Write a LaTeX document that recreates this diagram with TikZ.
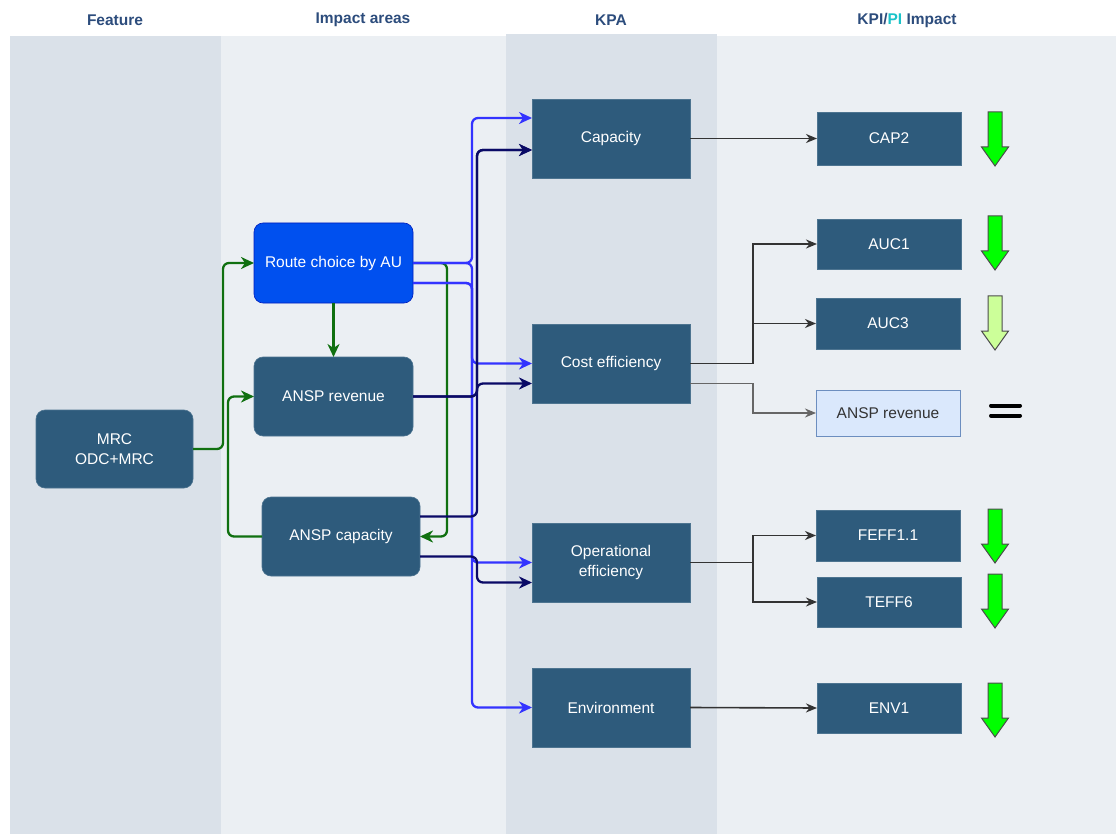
\documentclass[tikz,border=0pt]{standalone}
\usepackage{fontspec}
\setmainfont{Liberation Sans}
\usetikzlibrary{arrows.meta}

\definecolor{bandA}{HTML}{DAE1E9}
\definecolor{bandB}{HTML}{EBEFF3}
\definecolor{nodefill}{HTML}{2E5B7C}
\definecolor{routefill}{HTML}{0050EF}
\definecolor{routeline}{HTML}{001DBC}
\definecolor{headtext}{HTML}{2C4C7C}
\definecolor{pitext}{HTML}{1BC3C9}
\definecolor{greenline}{HTML}{107010}
\definecolor{blueline}{HTML}{3333FF}
\definecolor{navyline}{HTML}{0A0A66}
\definecolor{kpilight}{HTML}{DAE8FC}
\definecolor{kpiborder}{HTML}{6C8EBF}
\definecolor{upgreen}{HTML}{00FF00}
\definecolor{palegreen}{HTML}{CCFF99}

\begin{document}
\begin{tikzpicture}[x=1pt,y=-1pt,
  header/.style={text=headtext, font=\fontsize{15.5}{18}\selectfont\bfseries, anchor=center},
  box/.style={fill=nodefill, draw=nodefill!85!white, line width=0.6pt, text=white,
    font=\fontsize{15.5}{20}\selectfont, align=center, inner sep=0pt, outer sep=0pt},
  rbox/.style={box, rounded corners=9pt, minimum width=158pt, minimum height=79pt},
  kpabox/.style={box, minimum width=158pt, minimum height=79pt},
  kpibox/.style={box, minimum width=144pt, minimum height=51pt},
  conn/.style={line width=2.3pt, rounded corners=6pt,
    -{Stealth[length=13pt,width=12pt,inset=4pt]}},
  gconn/.style={conn, draw=greenline},
  bconn/.style={conn, draw=blueline},
  nconn/.style={conn, draw=navyline},
  kconn/.style={line width=1.6pt, draw=black!80,
    -{Stealth[length=11pt,width=9pt,inset=3.5pt]}},
  pics/trend/.style={code={
    \draw[line width=1pt, draw=black!70, fill=#1]
      (-7,0) -- (7,0) -- (7,35) -- (13.5,35) -- (0,54) -- (-13.5,35) -- (-7,35) -- cycle;}}
]
\useasboundingbox (0,0) rectangle (1116,834);

% column bands
\fill[bandA] (10,36) rectangle (221,834);
\fill[bandB] (221,36) rectangle (506,834);
\fill[bandA] (506,34) rectangle (717,834);
\fill[bandB] (717,36) rectangle (1116,834);

% column headers
\node[header] (hfeat) at (115,20) {Feature};
\node[header] (himp) at (363,20) {Impact areas};
\node[header] (hkpa) at (611,20) {KPA};
\node[header] (hkpi) at (907,20) {KPI/\textcolor{pitext}{PI} Impact};

% feature and impact areas
\node[rbox, minimum width=157pt, minimum height=78pt] (mrc) at (114.5,449) {MRC\\ODC+MRC};
\node[rbox, fill=routefill, draw=routeline, minimum width=159pt, minimum height=80pt] (route) at (333.5,263) {Route choice by AU};
\node[rbox, minimum width=159pt] (ansprev) at (333.5,396.5) {ANSP revenue};
\node[rbox] (anspcap) at (341,536.5) {ANSP capacity};

% key performance areas
\node[kpabox] (cap) at (611,138.5) {Capacity};
\node[kpabox] (cost) at (611,363.5) {Cost efficiency};
\node[kpabox] (ope) at (611,562.5) {Operational\\efficiency};
\node[kpabox] (env) at (611,707.5) {Environment};

% indicators
\node[kpibox, minimum height=53pt] (cap2) at (889,138.5) {CAP2};
\node[kpibox, minimum height=50pt] (auc1) at (889,244) {AUC1};
\node[kpibox] (auc3) at (888,323.5) {AUC3};
\node[kpibox, minimum height=46pt, fill=kpilight, draw=kpiborder, line width=1pt, text=black!80] (kpirev) at (888,413) {ANSP revenue};
\node[kpibox] (feff) at (888,535.5) {FEFF1.1};
\node[kpibox, minimum height=50pt] (teff) at (889,602) {TEFF6};
\node[kpibox, minimum height=50pt] (env1) at (889,708) {ENV1};

% trend markers
\pic at (995,112) {trend=upgreen};
\pic at (995,216) {trend=upgreen};
\pic at (995,296) {trend=palegreen};
\pic at (995,509) {trend=upgreen};
\pic at (995,574) {trend=upgreen};
\pic at (995,683) {trend=upgreen};
\draw[line width=4pt, line cap=round] (991,405.5) -- (1020,405.5);
\draw[line width=4pt, line cap=round] (991,415.5) -- (1020,415.5);

% feature -> impact areas (green)
\draw[gconn] (mrc.east) -- (223,449) |- (route.west);
\draw[gconn] (anspcap.west) -- (228,536.5) |- (ansprev.west);
\draw[gconn] (route.south) -- (ansprev.north);
\draw[gconn] (route.east) -- (447,263) |- (anspcap.east);

% route choice -> KPAs (blue)
\draw[bconn] (route.east) -- (472,263) |- ([yshift=20.5pt]cap.west);
\draw[bconn] (route.east) -- (472,263) |- (cost.west);
\draw[bconn] ([yshift=-20pt]route.east) -- (472,283) |- (ope.west);
\draw[bconn] ([yshift=-20pt]route.east) -- (472,283) |- (env.west);

% ANSP impacts -> KPAs (navy)
\draw[nconn] (ansprev.east) -- (477,396.5) |- ([yshift=-11.5pt]cap.west);
\draw[nconn] (ansprev.east) -- (477,396.5) |- ([yshift=-20pt]cost.west);
\draw[nconn] ([yshift=20pt]anspcap.east) -- (477,516.5) |- ([yshift=-11.5pt]cap.west);
\draw[nconn] ([yshift=-20pt]anspcap.east) -- (477,556.5) |- ([yshift=-20pt]ope.west);

% KPAs -> indicators
\draw[kconn] (cap.east) -- (cap2.west);
\draw[kconn] (cost.east) -- (753,363.5) |- (auc1.west);
\draw[kconn] (cost.east) -- (753,363.5) |- (auc3.west);
\draw[kconn, draw=black!60] ([yshift=-20pt]cost.east) -- (753,383.5) |- (kpirev.west);
\draw[kconn] (ope.east) -- (753,562.5) |- (feff.west);
\draw[kconn] (ope.east) -- (753,562.5) |- (teff.west);
\draw[kconn] (env.east) -- (env1.west);
\end{tikzpicture}
\end{document}
